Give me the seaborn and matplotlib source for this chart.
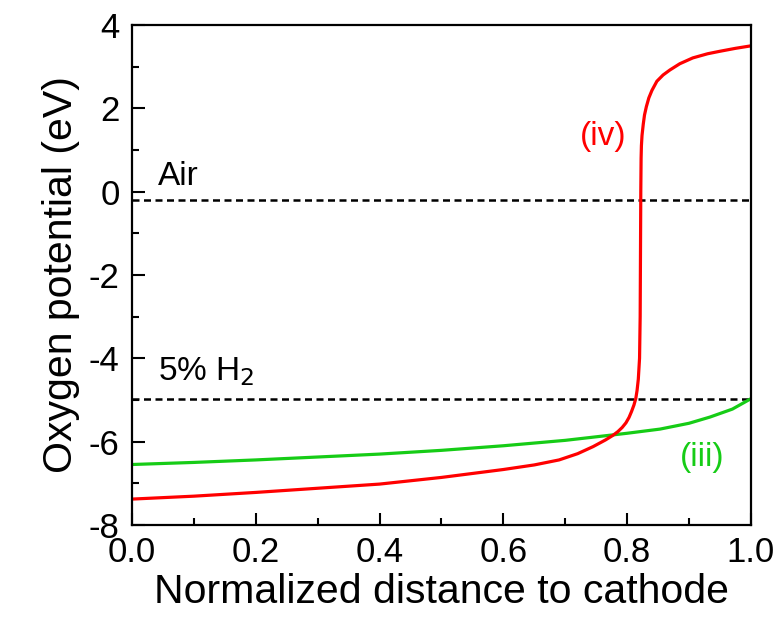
import seaborn as sns
import matplotlib.pyplot as plt
from matplotlib.ticker import MultipleLocator
import pandas as pd
import numpy as np

# curve (iv), red
red_x = [0.0, 0.1, 0.2, 0.3, 0.4, 0.5, 0.6, 0.65, 0.69, 0.72, 0.745, 0.765, 0.777, 0.785, 0.792,
         0.798, 0.803, 0.807, 0.811, 0.814, 0.816, 0.818, 0.820, 0.821, 0.8215, 0.822, 0.8225,
         0.823, 0.824, 0.826, 0.828, 0.831, 0.835, 0.840, 0.848, 0.858, 0.869, 0.885, 0.906,
         0.93, 0.95, 0.975, 1.0]
red_y = [-7.38, -7.31, -7.22, -7.12, -7.02, -6.86, -6.67, -6.56, -6.44, -6.29, -6.12, -5.96, -5.85,
         -5.76, -5.66, -5.55, -5.42, -5.28, -5.12, -4.96, -4.77, -4.5, -4.0, -3.0, -1.5, 0.0, 0.8,
         1.1, 1.35, 1.62, 1.84, 2.04, 2.25, 2.43, 2.65, 2.8, 2.92, 3.07, 3.21,
         3.31, 3.37, 3.44, 3.5]
# curve (iii), green
green_x = [0.0, 0.1, 0.2, 0.3, 0.4, 0.5, 0.6, 0.7, 0.8, 0.853, 0.9, 0.934, 0.97, 1.0]
green_y = [-6.55, -6.5, -6.44, -6.37, -6.3, -6.21, -6.1, -5.97, -5.8, -5.7, -5.56, -5.41, -5.22, -4.97]
# reference levels
air_level = -0.2
h2_level = -4.97

sns.set_style("ticks")
plt.rcParams['font.family'] = ['Liberation Sans', 'DejaVu Sans']
plt.rcParams['axes.unicode_minus'] = False
for k in ['text.color', 'axes.labelcolor', 'xtick.color', 'ytick.color', 'axes.edgecolor']:
    plt.rcParams[k] = 'black'

red = pd.DataFrame({"x": red_x, "y": red_y})
green = pd.DataFrame({"x": green_x, "y": green_y})

fig = plt.figure(figsize=(7.79, 6.19), dpi=100)
fig.subplots_adjust(left=0.1695, bottom=0.152, right=0.964, top=0.9596)
ax = fig.add_subplot(111)

dash = (0, (2.8, 1.8))
ax.axhline(air_level, color='k', linestyle=dash, linewidth=1.8)
ax.axhline(h2_level, color='k', linestyle=dash, linewidth=1.8)
sns.lineplot(data=green, x="x", y="y", color="#16cc16", linewidth=2.3, sort=False, estimator=None, ax=ax)
sns.lineplot(data=red, x="x", y="y", color="#ff0000", linewidth=2.3, sort=False, estimator=None, ax=ax)

ax.text(0.042, 0.17, "Air", fontsize=24, va='baseline', ha='left')
ax.text(0.042, -4.54, "5% H$_2$", fontsize=24, va='baseline', ha='left')
ax.text(0.724, 1.13, "(iv)", fontsize=24, va='baseline', ha='left', color="#ff0000")
ax.text(0.885, -6.58, "(iii)", fontsize=24, va='baseline', ha='left', color="#16cc16")

ax.set_xlim(0, 1)
ax.set_ylim(-8, 4)
ax.xaxis.set_major_locator(MultipleLocator(0.2))
ax.xaxis.set_minor_locator(MultipleLocator(0.1))
ax.yaxis.set_major_locator(MultipleLocator(2))
ax.yaxis.set_minor_locator(MultipleLocator(1))
ax.set_xticks(np.arange(0, 1.01, 0.2))
ax.set_xticklabels(["0.0", "0.2", "0.4", "0.6", "0.8", "1.0"])
ax.tick_params(which='major', direction='in', length=9, width=1.5, labelsize=25)
ax.tick_params(axis='x', which='major', pad=8)
ax.tick_params(axis='y', which='major', pad=9)
ax.tick_params(which='minor', direction='in', length=5, width=1.5)
for s in ax.spines.values():
    s.set_linewidth(1.6)
    s.set_visible(True)

ax.set_xlabel("Normalized distance to cathode", fontsize=29.5, labelpad=3)
ax.set_ylabel("Oxygen potential (eV)", fontsize=29.5, labelpad=6)

plt.savefig("out.png", dpi=100)
